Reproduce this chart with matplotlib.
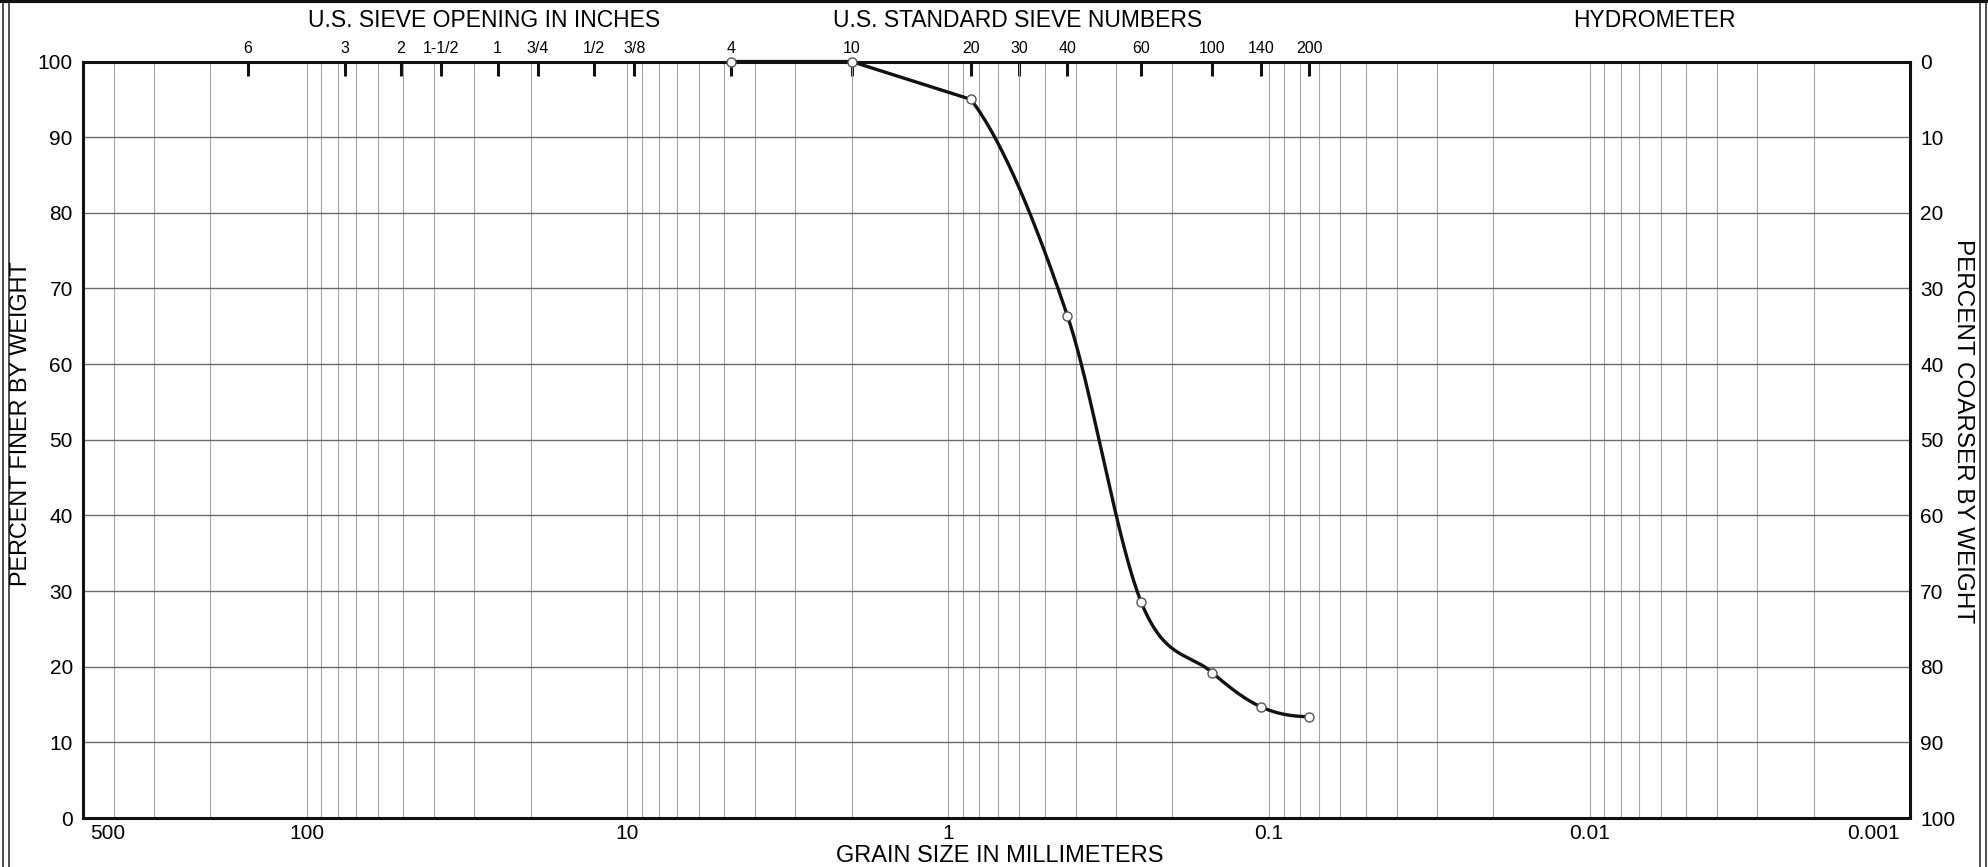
import numpy as np
import matplotlib
matplotlib.use("Agg")
import matplotlib.pyplot as plt
from matplotlib.lines import Line2D
from matplotlib.ticker import LogLocator, NullFormatter, FixedLocator
from matplotlib.transforms import ScaledTranslation

plt.rcParams["font.family"] = ["Liberation Sans", "DejaVu Sans"]

# ---------------------------------------------------------------- data
# sieve test result: grain size (mm) vs percent finer by weight
SIZE_MM = [4.75, 2.0, 0.85, 0.425, 0.25, 0.15, 0.106, 0.075]
PCT_FINER = [100.0, 100.0, 95.0, 66.4, 28.5, 19.2, 14.7, 13.4]

# top scale: sieve openings in inches and standard sieve numbers
INCH_LABELS = ["6", "3", "2", "1-1/2", "1", "3/4", "1/2", "3/8"]
INCH_MM = [152.4, 76.2, 50.8, 38.1, 25.4, 19.05, 12.7, 9.525]
SIEVE_LABELS = ["4", "10", "20", "30", "40", "60", "100", "140", "200"]
SIEVE_MM = [4.75, 2.0, 0.85, 0.6, 0.425, 0.25, 0.15, 0.106, 0.075]

X_TICKS = [500, 100, 10, 1, 0.1, 0.01, 0.001]
X_TICKLABELS = ["500", "100", "10", "1", "0.1", "0.01", "0.001"]
Y_TICKS = list(range(0, 101, 10))
Y_COARSER = [100 - v for v in Y_TICKS]


def smooth(x, y, xs):
    """cardinal (Catmull-Rom) cubic through (x, y), x increasing,
    slopes limited so the curve stays monotone"""
    x = np.asarray(x, float)
    y = np.asarray(y, float)
    h = np.diff(x)
    d = np.diff(y) / h
    m = np.zeros_like(x)
    m[1:-1] = (y[2:] - y[:-2]) / (x[2:] - x[:-2])

    def end(h0, h1, d0, d1):
        s = ((2 * h0 + h1) * d0 - h0 * d1) / (h0 + h1)
        return s if np.sign(s) == np.sign(d0) else 0.0

    m[0] = end(h[0], h[1], d[0], d[1])
    m[-1] = end(h[-1], h[-2], d[-1], d[-2])
    for k in range(len(d)):
        if d[k] == 0:
            m[k] = m[k + 1] = 0.0
            continue
        a, b = m[k] / d[k], m[k + 1] / d[k]
        r = a * a + b * b
        if r > 9:
            tau = 3 / np.sqrt(r)
            m[k], m[k + 1] = tau * a * d[k], tau * b * d[k]
    i = np.clip(np.searchsorted(x, xs) - 1, 0, len(h) - 1)
    t = (xs - x[i]) / h[i]
    h00 = 2 * t**3 - 3 * t**2 + 1
    h10 = t**3 - 2 * t**2 + t
    h01 = -2 * t**3 + 3 * t**2
    h11 = t**3 - t**2
    return h00 * y[i] + h10 * h[i] * m[i] + h01 * y[i + 1] + h11 * h[i] * m[i + 1]


fig = plt.figure(figsize=(19.88, 8.67), dpi=100)
fig.patch.set_facecolor("white")
rect = [0.0415, 0.0565, 0.961 - 0.0415, 0.929 - 0.0565]

ax = fig.add_axes(rect)
ax_top = ax.twiny()
ax_r = ax.twinx()
ax.set_zorder(3)
ax.patch.set_visible(False)

# main axis
ax.set_xscale("log")
ax.set_xlim(500, 0.001)
ax.set_ylim(0, 100)
ax.set_xticks(X_TICKS)
ax.set_xticklabels(X_TICKLABELS)
ax.xaxis.set_minor_locator(LogLocator(base=10, subs=np.arange(2, 10), numticks=20))
ax.xaxis.set_minor_formatter(NullFormatter())
ax.set_yticks(Y_TICKS)
ax.tick_params(axis="x", which="both", length=0, labelsize=15, pad=4)
ax.tick_params(axis="y", length=0, labelsize=15, pad=7)
ax.grid(axis="x", which="both", color="#a4a4a4", lw=0.8)
ax.grid(axis="y", which="major", color="#6a6a6a", lw=1.0)
for s in ax.spines.values():
    s.set_linewidth(2.2)
    s.set_color("#111111")

# gradation curve: straight over the coarse part, smooth through the fines
u = -np.log10(SIZE_MM)
k0 = 2
us = np.linspace(u[k0], u[-1], 300)
ys = smooth(u[k0:], PCT_FINER[k0:], us)
cx = np.concatenate([SIZE_MM[:k0], 10 ** (-us)])
cy = np.concatenate([PCT_FINER[:k0], ys])
ax.plot(cx, cy, color="#111111", lw=2.4, zorder=4, clip_on=False,
        solid_joinstyle="round")
ax.plot(SIZE_MM, PCT_FINER, ls="none", marker="o", ms=6.5, mfc="white",
        mec="#555555", mew=1.0, zorder=5, clip_on=False)

# top scale with sieve marks
ax_top.set_xscale("log")
ax_top.set_xlim(ax.get_xlim())
ax_top.xaxis.set_major_locator(FixedLocator(INCH_MM + SIEVE_MM))
ax_top.set_xticklabels(INCH_LABELS + SIEVE_LABELS)
ax_top.xaxis.set_minor_locator(FixedLocator([]))
ax_top.tick_params(axis="x", direction="in", length=10, width=2.2,
                   color="#111111", labelsize=11.5, pad=4)

# right scale: percent coarser
ax_r.set_ylim(0, 100)
ax_r.set_yticks(Y_TICKS)
ax_r.set_yticklabels([str(v) for v in Y_COARSER])
ax_r.tick_params(axis="y", length=0, labelsize=15, pad=7)
for a in (ax_top, ax_r):
    for s in a.spines.values():
        s.set_visible(False)

# end labels sit inside the plot edges
lbls = ax.get_xticklabels()
lbls[0].set_horizontalalignment("left")
lbls[0].set_transform(lbls[0].get_transform() + ScaledTranslation(0.08, 0, fig.dpi_scale_trans))
lbls[-1].set_horizontalalignment("right")
lbls[-1].set_transform(lbls[-1].get_transform() + ScaledTranslation(-0.11, 0, fig.dpi_scale_trans))

# headings and axis titles
fig.text(0.2435, 0.9766, "U.S. SIEVE OPENING IN INCHES", ha="center", va="center", fontsize=16.5)
fig.text(0.512, 0.9766, "U.S. STANDARD SIEVE NUMBERS", ha="center", va="center", fontsize=16.5)
fig.text(0.832, 0.9766, "HYDROMETER", ha="center", va="center", fontsize=16.5)
fig.text(0.0103, 0.511, "PERCENT FINER BY WEIGHT", rotation=90, ha="center", va="center", fontsize=16.8)
fig.text(0.9876, 0.503, "PERCENT COARSER BY WEIGHT", rotation=270, ha="center", va="center", fontsize=17.5)
fig.text(0.503, 0.013, "GRAIN SIZE IN MILLIMETERS", ha="center", va="center", fontsize=17)

# sheet frame
for x in (0.0015, 0.0043, 0.9962, 0.9990):
    fig.add_artist(Line2D([x, x], [0, 1], transform=fig.transFigure, color="#333333", lw=1.2))
fig.add_artist(Line2D([0, 1], [0.9985, 0.9985], transform=fig.transFigure, color="#111111", lw=3))

fig.savefig("out.png", dpi=100, facecolor="white")
